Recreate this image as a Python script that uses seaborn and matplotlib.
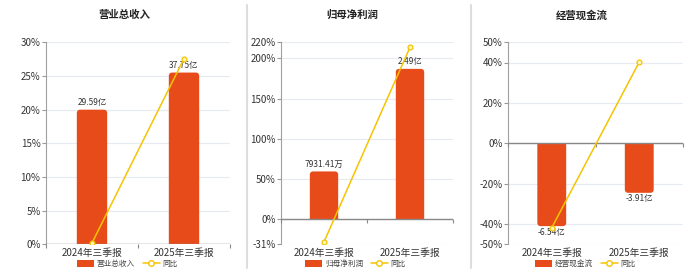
import matplotlib
matplotlib.use("Agg")
import matplotlib.pyplot as plt
import seaborn as sns
import pandas as pd
from matplotlib.patches import Patch, PathPatch
from matplotlib.path import Path
from matplotlib.lines import Line2D
from matplotlib.transforms import IdentityTransform

sns.set_theme(style="white")
plt.rcParams['font.family'] = ['Noto Sans CJK SC', 'DejaVu Sans']
plt.rcParams['axes.unicode_minus'] = False

categories = ['2024年三季报', '2025年三季报']

titles = ['营业总收入', '归母净利润', '经营现金流']

revenue = [29.59, 37.75]            # 亿
revenue_labels = ['29.59亿', '37.75亿']
revenue_yoy = [0.2, 27.58]

profit = [0.793141, 2.49]           # 亿
profit_labels = ['7931.41万', '2.49亿']
profit_yoy = [-28.0, 213.9]

cash = [-6.54, -3.91]               # 亿
cash_labels = ['-6.54亿', '-3.91亿']
cash_yoy = [-41.8, 40.2]

pct_ticks = [
    [0, 5, 10, 15, 20, 25, 30],
    [-31, 0, 50, 100, 150, 200, 220],
    [-50, -40, -20, 0, 20, 40, 50],
]
pct_lims = [(0, 30), (-31, 220), (-50, 50)]
bar_lims = [(0, 44.4), (-31 * 0.013316, 220 * 0.013316), (-50 * 0.1595, 50 * 0.1595)]

BAR = '#E84B1A'
LINE = '#F5C400'
GRID = '#E6EAF3'
TXT = '#333333'

fig = plt.figure(figsize=(7.0, 2.72), dpi=100)

W, H = 700.0, 272.0
ax_px = [(46, 230), (281, 453), (508, 683)]
top_px, bot_px = 42.3, 244.3
center_px = [124, 352, 582]

series = [
    (revenue, revenue_labels, revenue_yoy),
    (profit, profit_labels, profit_yoy),
    (cash, cash_labels, cash_yoy),
]


def rounded_bar_path(x0, x1, yb, yt, r, up):
    """Pixel-space path; rounded corners at the far end (yt)."""
    if up:
        verts = [(x0, yb), (x0, yt - r), (x0, yt), (x0 + r, yt),
                 (x1 - r, yt), (x1, yt), (x1, yt - r), (x1, yb), (x0, yb)]
    else:
        verts = [(x0, yb), (x0, yt + r), (x0, yt), (x0 + r, yt),
                 (x1 - r, yt), (x1, yt), (x1, yt + r), (x1, yb), (x0, yb)]
    codes = [Path.MOVETO, Path.LINETO, Path.CURVE3, Path.CURVE3,
             Path.LINETO, Path.CURVE3, Path.CURVE3, Path.LINETO, Path.CLOSEPOLY]
    return Path(verts, codes)


for i, (vals, labels, yoy) in enumerate(series):
    l, r = ax_px[i]
    rect = [l / W, (H - bot_px) / H, (r - l) / W, (bot_px - top_px) / H]
    ax = fig.add_axes(rect)
    ax_bar = ax.twinx()
    ax_line = ax.twinx()

    # percent axis
    ax.set_ylim(*pct_lims[i])
    ax.set_yticks(pct_ticks[i])
    ax.set_yticklabels([f'{t}%' for t in pct_ticks[i]], fontsize=7, color=TXT)
    for t in pct_ticks[i]:
        ax.axhline(t, color=GRID, lw=0.8, zorder=0)
    ax.set_xlim(-0.5, 1.5)
    ax.set_xticks([0, 1])
    ax.set_xticklabels(categories, fontsize=7, color=TXT)
    ax.tick_params(axis='x', length=0, pad=3)
    ax.tick_params(axis='y', length=3, width=0.8, color='#999999', pad=1, left=True)
    for s in ['top', 'right', 'bottom']:
        ax.spines[s].set_visible(False)
    ax.spines['left'].set_color('#A0A0A0')
    ax.spines['left'].set_linewidth(0.8)

    # bars
    dfb = pd.DataFrame({'cat': categories, 'val': vals})
    sns.barplot(data=dfb, x='cat', y='val', ax=ax_bar, color=BAR, width=0.33,
                saturation=1, edgecolor='none')
    ax_bar.set_ylim(*bar_lims[i])
    ax_bar.set_xlim(-0.5, 1.5)
    ax_bar.axis('off')
    for p, lab, v in zip(list(ax_bar.patches), labels, vals):
        x = p.get_x() + p.get_width() / 2
        # replace with rounded-end bar drawn in pixel space
        (px0, py0) = ax_bar.transData.transform((p.get_x(), 0))
        (px1, py1) = ax_bar.transData.transform((p.get_x() + p.get_width(), v))
        path = rounded_bar_path(px0, px1, py0, py1, 3.5, v >= 0)
        pp = PathPatch(path, facecolor=BAR, edgecolor='none', transform=IdentityTransform())
        p.set_visible(False)
        ax_bar.add_artist(pp)
        if v >= 0:
            ax_bar.annotate(lab, (x, v), xytext=(0, 2), textcoords='offset points',
                            ha='center', va='bottom', fontsize=6, color=TXT)
        else:
            ax_bar.annotate(lab, (x, v), xytext=(0, -1), textcoords='offset points',
                            ha='center', va='top', fontsize=6, color=TXT)

    # line
    dfl = pd.DataFrame({'x': [0, 1], 'yoy': yoy})
    ax_line.set_ylim(*pct_lims[i])
    ax_line.set_xlim(-0.5, 1.5)
    ax_line.axhline(0, color='#888888', lw=1.0, zorder=1)
    for xb in [-0.5, 0.5, 1.5]:
        ax_line.plot([xb], [0], marker=3, ms=3, color='#888888', mew=0.8, clip_on=False)
    sns.lineplot(data=dfl, x='x', y='yoy', ax=ax_line, color=LINE, lw=1.1,
                 marker='o', markersize=3.5, markerfacecolor='#FFF6C0',
                 markeredgecolor=LINE, markeredgewidth=0.9, zorder=3)
    ax_line.axis('off')

    # title
    fig.text(center_px[i] / W, 1 - 15 / H, titles[i], ha='center', va='center',
             fontsize=7.5, fontweight='bold', color='#222222')

    # legend
    handles = [Patch(facecolor=BAR, edgecolor='none'),
               Line2D([0], [0], color=LINE, lw=1.1, marker='o', markersize=4,
                      markerfacecolor='white', markeredgecolor=LINE)]
    fig.legend(handles, [titles[i], '同比'], loc='center',
               bbox_to_anchor=(center_px[i] / W + 0.005, 1 - 264 / H), ncol=2, frameon=False,
               fontsize=5.5, handlelength=2.2, handleheight=0.9, columnspacing=1.0,
               handletextpad=0.4, labelcolor='#444444')

# separators
for xs in [247, 471]:
    fig.add_artist(Line2D([xs / W, xs / W], [1 - 5 / H, 1 - 268 / H],
                          color='#DDDDDD', lw=1.5))

fig.savefig('out.png', dpi=100)
